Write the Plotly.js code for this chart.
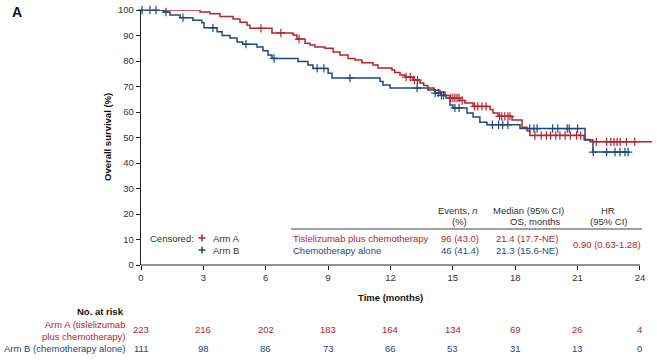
<!DOCTYPE html>
<html>
<head>
<meta charset="utf-8">
<script src="https://cdn.plot.ly/plotly-3.0.1.min.js"></script>
<style>html,body{margin:0;padding:0;background:#fff;}#chart{width:657px;height:363px;}</style>
</head>
<body>
<div id="chart"></div>
<script>
// ---- Data ----
// Arm A (tislelizumab plus chemotherapy): step times (months) and survival (%)
var timeA = [0, 2.84, 3.32, 3.80, 4.43, 4.76, 5.10, 5.24, 6.30, 7.31, 7.50, 7.89, 8.13, 8.37, 8.85, 9.24, 9.57, 9.96, 10.29, 10.63, 11.16, 11.40, 12.07, 12.20, 12.46, 12.70, 13.08, 13.42, 13.60, 13.80, 14.10, 14.38, 14.62, 14.86, 15.34, 15.58, 15.97, 16.79, 16.93, 17.17, 17.85, 18.33, 18.57, 18.71, 21.31, 21.60, 24.6];
var survA = [100, 99.2, 98.5, 97.5, 96.5, 95.2, 94, 92.8, 91, 90.2, 88.6, 87, 86.3, 85.5, 85, 83.5, 82.4, 81, 80.4, 79.3, 78.4, 77.3, 76.5, 75.5, 74.5, 73.7, 72.5, 71.4, 70.4, 69.4, 68.5, 67.8, 66.5, 65.5, 64.5, 63.5, 62.2, 61, 59.6, 58.3, 56.9, 54, 52.5, 50.8, 49.2, 48.3, 48.3];
var censorA = [5.77, 6.73, 7.6, 12.75, 12.95, 13.15, 13.3, 14.9, 15.0, 15.1, 15.2, 15.3, 15.45, 16.05, 16.2, 16.4, 16.6, 17.25, 17.35, 17.5, 17.65, 17.75, 18.95, 19.25, 19.5, 19.7, 19.95, 20.15, 20.4, 20.65, 20.95, 21.15, 21.9, 22.4, 22.6, 22.75, 22.9, 23.05, 23.35, 23.75];

// Arm B (chemotherapy alone)
var timeB = [0, 1.10, 1.39, 1.88, 2.50, 2.93, 3.03, 3.66, 3.90, 4.28, 4.62, 4.90, 5.58, 5.87, 6.11, 6.30, 7.55, 8.03, 8.27, 9.00, 9.19, 11.50, 11.64, 11.98, 13.80, 14.14, 14.43, 14.67, 14.86, 15.00, 15.68, 15.97, 16.30, 16.64, 18.23, 21.36, 21.74, 23.5];
var survB = [100, 99.2, 98, 97, 96, 95, 93, 91.5, 90, 89, 87.5, 86.6, 85.5, 84, 82.4, 81, 79.8, 78.4, 77.1, 75.2, 73.3, 72, 70.6, 69.4, 68.6, 67.4, 66.5, 65.5, 62.7, 61.6, 59.6, 58, 56, 55, 53.5, 49, 44.3, 44.3];
var censorB = [0.05, 0.43, 0.72, 1.2, 2.02, 3.46, 5.05, 6.4, 8.47, 8.8, 10.05, 13.28, 14.15, 14.3, 14.45, 14.55, 15.1, 15.3, 16.9, 17.2, 17.4, 17.65, 18.7, 18.9, 19.05, 19.8, 20.05, 20.5, 20.6, 21.0, 21.75, 22.4, 22.8, 23.04, 23.28, 23.43];

// Number at risk
var riskTimes = [0, 3, 6, 9, 12, 15, 18, 21, 24];
var riskA = [223, 216, 202, 183, 164, 134, 69, 26, 4];
var riskB = [111, 98, 86, 73, 66, 53, 31, 13, 0];

// Summary table
var tableRowNames = ["Tislelizumab plus chemotherapy", "Chemotherapy alone"];
var tableEvents = ["96 (43.0)", "46 (41.4)"];
var tableMedian = ["21.4 (17.7-NE)", "21.3 (15.6-NE)"];
var tableHR = "0.90 (0.63-1.28)";

var xTicks = [0, 3, 6, 9, 12, 15, 18, 21, 24];
var yTicks = [0, 10, 20, 30, 40, 50, 60, 70, 80, 90, 100];

// ---- Styling ----
var RED = '#b3262e', BLUE = '#1d4a7e', TXT = '#333333';
var FONT = 'Liberation Sans, Arial, sans-serif';
var W = 657, H = 363, ML = 141, MR = 5, MT = 10, MB = 98;
var PW = W - ML - MR, PH = H - MT - MB;
function px(x) { return (x - ML) / PW; }
function py(y) { return (H - MB - y) / PH; }

function levelAt(times, surv, t) {
  var v = surv[0];
  for (var i = 0; i < times.length; i++) { if (times[i] <= t) v = surv[i]; }
  return v;
}

var traces = [
  {x: timeA, y: survA, mode: 'lines', line: {shape: 'hv', color: RED, width: 1.5}, hoverinfo: 'skip', showlegend: false},
  {x: timeB, y: survB, mode: 'lines', line: {shape: 'hv', color: BLUE, width: 1.5}, hoverinfo: 'skip', showlegend: false},
  {x: censorA, y: censorA.map(function(t){return levelAt(timeA, survA, t);}), mode: 'markers', cliponaxis: false,
   marker: {symbol: 'cross-thin', size: 6, line: {color: RED, width: 1.2}}, hoverinfo: 'skip', showlegend: false},
  {x: censorB, y: censorB.map(function(t){return levelAt(timeB, survB, t);}), mode: 'markers', cliponaxis: false,
   marker: {symbol: 'cross-thin', size: 6, line: {color: BLUE, width: 1.2}}, hoverinfo: 'skip', showlegend: false}
];

var ann = [];
function addText(text, x, y, opts) {
  var a = {text: text, xref: 'paper', yref: 'paper', x: px(x), y: py(y), showarrow: false,
    xanchor: 'center', yanchor: 'middle', font: {family: FONT, size: 9.5, color: TXT}};
  for (var k in opts) a[k] = opts[k];
  ann.push(a);
}

addText('<b>A</b>', 10, 12, {xanchor: 'left', font: {family: FONT, size: 14, color: '#111'}});
addText('<b>Overall survival (%)</b>', 107, 137, {textangle: -90, font: {family: FONT, size: 9.5, color: '#111'}});
addText('<b>Time (months)</b>', 390, 297, {font: {family: FONT, size: 9.5, color: '#111'}});

// Legend
addText('Censored:', 148, 238, {xanchor: 'left'});
addText('Arm A', 211, 238, {xanchor: 'left'});
addText('Arm B', 211, 250, {xanchor: 'left'});

// Summary table
addText('Events, <i>n</i>', 458, 210, {});
addText('(%)', 459, 221, {});
addText('Median (95% CI)', 528, 210, {});
addText('OS, months', 562, 221, {xanchor: 'right'});
addText('HR', 608, 210, {});
addText('(95% CI)', 608, 221, {});
addText(tableRowNames[0], 291, 238, {xanchor: 'left', font: {family: FONT, size: 9.5, color: RED}});
addText(tableRowNames[1], 291, 250, {xanchor: 'left', font: {family: FONT, size: 9.5, color: BLUE}});
addText(tableEvents[0], 460, 238, {font: {family: FONT, size: 9.5, color: RED}});
addText(tableEvents[1], 460, 250, {font: {family: FONT, size: 9.5, color: BLUE}});
addText(tableMedian[0], 527, 238, {font: {family: FONT, size: 9.5, color: RED}});
addText(tableMedian[1], 527, 250, {font: {family: FONT, size: 9.5, color: BLUE}});
addText(tableHR, 607, 244, {font: {family: FONT, size: 9.5, color: RED}});

// Risk table
addText('<b>No. at risk</b>', 126, 311, {xanchor: 'right', font: {family: FONT, size: 9.5, color: '#111'}});
addText('Arm A (tislelizumab<br>plus chemotherapy)', 127, 330, {xanchor: 'right', align: 'right', font: {family: FONT, size: 9.5, color: RED}});
addText('Arm B (chemotherapy alone)', 127, 348, {xanchor: 'right', font: {family: FONT, size: 9.5, color: BLUE}});
for (var i = 0; i < riskTimes.length; i++) {
  ann.push({text: String(riskA[i]), xref: 'x', yref: 'paper', x: riskTimes[i], y: py(329), showarrow: false,
    xanchor: 'center', yanchor: 'middle', font: {family: FONT, size: 9.5, color: RED}});
  ann.push({text: String(riskB[i]), xref: 'x', yref: 'paper', x: riskTimes[i], y: py(348), showarrow: false,
    xanchor: 'center', yanchor: 'middle', font: {family: FONT, size: 9.5, color: BLUE}});
}

// Legend crosses drawn as small shapes
function cross(cx, cy, color) {
  var h = 3.5;
  return [
    {type: 'line', xref: 'paper', yref: 'paper', x0: px(cx - h), x1: px(cx + h), y0: py(cy), y1: py(cy), line: {color: color, width: 1.5}},
    {type: 'line', xref: 'paper', yref: 'paper', x0: px(cx), x1: px(cx), y0: py(cy - h), y1: py(cy + h), line: {color: color, width: 1.5}}
  ];
}

var shapes = [
  {type: 'line', xref: 'x', yref: 'paper', x0: 0, x1: 24, y0: 0, y1: 0, line: {color: '#222', width: 1.2}},
  {type: 'line', xref: 'paper', yref: 'paper', x0: px(291), x1: px(642), y0: py(229), y1: py(229), line: {color: '#444', width: 1}}
].concat(cross(202, 238, RED), cross(202, 250, BLUE));

var layout = {
  width: W, height: H,
  margin: {l: ML, r: MR, t: MT, b: MB, pad: 0},
  paper_bgcolor: '#fff', plot_bgcolor: '#fff',
  showlegend: false,
  xaxis: {range: [0, (PW) / 20.79], tickvals: xTicks, ticktext: xTicks.map(String), ticks: 'outside', ticklen: 4,
    tickcolor: '#222', tickwidth: 1, showline: false, showgrid: false, zeroline: false,
    tickfont: {family: FONT, size: 9.5, color: TXT}, fixedrange: true},
  yaxis: {range: [0, 100], tickvals: yTicks, ticks: 'outside', ticklen: 4, tickcolor: '#222', tickwidth: 1,
    showline: true, linecolor: '#222', linewidth: 1.2, showgrid: false, zeroline: false,
    tickfont: {family: FONT, size: 9.5, color: TXT}, fixedrange: true},
  shapes: shapes,
  annotations: ann
};

Plotly.newPlot('chart', traces, layout, {staticPlot: true, displayModeBar: false});
</script>
</body>
</html>
